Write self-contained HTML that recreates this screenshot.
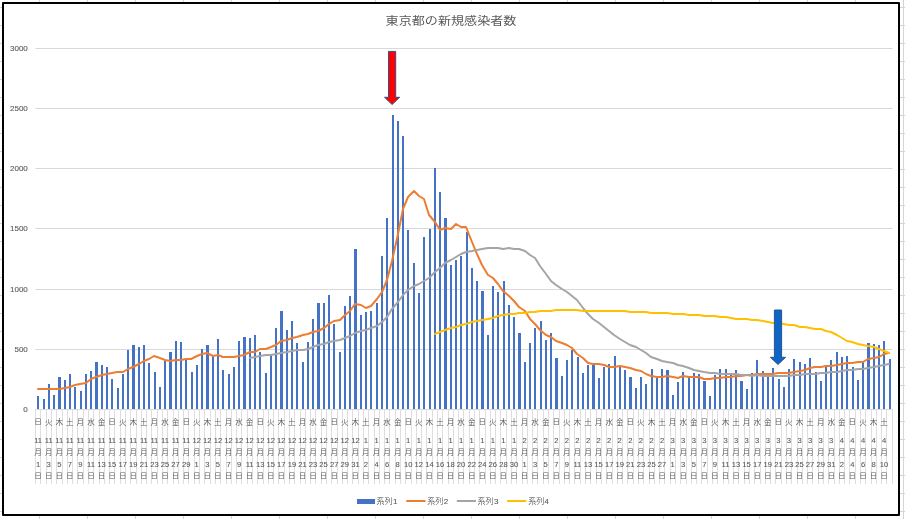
<!DOCTYPE html>
<html lang="ja"><head><meta charset="utf-8"><title>東京都の新規感染者数</title>
<style>html,body{margin:0;padding:0;background:#fff}body{width:905px;height:519px;overflow:hidden}svg{display:block}text{font-family:"Liberation Sans","Noto Sans CJK JP",sans-serif;fill:#595959}.y{font-size:8px;text-anchor:end;stroke:#595959;stroke-width:.1px}.c{font-size:7.6px;text-anchor:middle;font-weight:350}.d{font-size:7.6px;text-anchor:middle;stroke:#595959;stroke-width:.08px}.t{font-size:13.1px;text-anchor:middle;font-weight:400}.w{font-weight:350;fill:#595959}.l{font-size:8px}.lc{font-weight:350}.ld{stroke:#595959;stroke-width:.1px}</style></head><body>
<svg width="905" height="519" viewBox="0 0 905 519">
<rect width="905" height="519" fill="#fff"/>
<path d="M39.5 0V519M87.5 0V519M135.5 0V519M183.5 0V519M231.5 0V519M279.5 0V519M327.5 0V519M375.5 0V519M423.5 0V519M471.5 0V519M519.5 0V519M567.5 0V519M615.5 0V519M663.5 0V519M711.5 0V519M759.5 0V519M807.5 0V519M855.5 0V519M903.5 0V519M0 7.5H905M0 25.5H905M0 43.5H905M0 61.5H905M0 79.5H905M0 97.5H905M0 115.5H905M0 133.5H905M0 151.5H905M0 169.5H905M0 187.5H905M0 205.5H905M0 223.5H905M0 241.5H905M0 259.5H905M0 277.5H905M0 295.5H905M0 313.5H905M0 331.5H905M0 349.5H905M0 367.5H905M0 385.5H905M0 403.5H905M0 421.5H905M0 439.5H905M0 457.5H905M0 475.5H905M0 493.5H905M0 511.5H905" stroke="#d4d4d4" stroke-width="1" fill="none" shape-rendering="crispEdges"/>
<rect x="3" y="3" width="896" height="512" fill="#fff" stroke="#000" stroke-width="2" stroke-linejoin="round"/>
<text class="t" transform="translate(451,24.6) scale(1,0.88)">東京都の新規感染者数</text>
<path d="M35.4 409.5H892.5M35.4 349.5H892.5M35.4 289.5H892.5M35.4 228.5H892.5M35.4 168.5H892.5M35.4 108.5H892.5M35.4 48.5H892.5" stroke="#d9d9d9" stroke-width="1" fill="none"/>
<text class="y" x="27.8" y="412.4">0</text>
<text class="y" x="27.8" y="352.4">500</text>
<text class="y" x="27.8" y="292.4">1000</text>
<text class="y" x="27.8" y="231.4">1500</text>
<text class="y" x="27.8" y="171.4">2000</text>
<text class="y" x="27.8" y="111.4">2500</text>
<text class="y" x="27.8" y="51.4">3000</text>
<path d="M35.5 409.0V484M40.5 409.0V484M46.5 409.0V484M51.5 409.0V484M56.5 409.0V484M62.5 409.0V484M67.5 409.0V484M72.5 409.0V484M77.5 409.0V484M83.5 409.0V484M88.5 409.0V484M93.5 409.0V484M99.5 409.0V484M104.5 409.0V484M109.5 409.0V484M114.5 409.0V484M120.5 409.0V484M125.5 409.0V484M130.5 409.0V484M136.5 409.0V484M141.5 409.0V484M146.5 409.0V484M151.5 409.0V484M157.5 409.0V484M162.5 409.0V484M167.5 409.0V484M173.5 409.0V484M178.5 409.0V484M183.5 409.0V484M188.5 409.0V484M194.5 409.0V484M199.5 409.0V484M204.5 409.0V484M210.5 409.0V484M215.5 409.0V484M220.5 409.0V484M226.5 409.0V484M231.5 409.0V484M236.5 409.0V484M241.5 409.0V484M247.5 409.0V484M252.5 409.0V484M257.5 409.0V484M263.5 409.0V484M268.5 409.0V484M273.5 409.0V484M278.5 409.0V484M284.5 409.0V484M289.5 409.0V484M294.5 409.0V484M300.5 409.0V484M305.5 409.0V484M310.5 409.0V484M315.5 409.0V484M321.5 409.0V484M326.5 409.0V484M331.5 409.0V484M337.5 409.0V484M342.5 409.0V484M347.5 409.0V484M352.5 409.0V484M358.5 409.0V484M363.5 409.0V484M368.5 409.0V484M374.5 409.0V484M379.5 409.0V484M384.5 409.0V484M389.5 409.0V484M395.5 409.0V484M400.5 409.0V484M405.5 409.0V484M411.5 409.0V484M416.5 409.0V484M421.5 409.0V484M426.5 409.0V484M432.5 409.0V484M437.5 409.0V484M442.5 409.0V484M448.5 409.0V484M453.5 409.0V484M458.5 409.0V484M463.5 409.0V484M469.5 409.0V484M474.5 409.0V484M479.5 409.0V484M485.5 409.0V484M490.5 409.0V484M495.5 409.0V484M500.5 409.0V484M506.5 409.0V484M511.5 409.0V484M516.5 409.0V484M522.5 409.0V484M527.5 409.0V484M532.5 409.0V484M537.5 409.0V484M543.5 409.0V484M548.5 409.0V484M553.5 409.0V484M559.5 409.0V484M564.5 409.0V484M569.5 409.0V484M574.5 409.0V484M580.5 409.0V484M585.5 409.0V484M590.5 409.0V484M596.5 409.0V484M601.5 409.0V484M606.5 409.0V484M612.5 409.0V484M617.5 409.0V484M622.5 409.0V484M627.5 409.0V484M633.5 409.0V484M638.5 409.0V484M643.5 409.0V484M649.5 409.0V484M654.5 409.0V484M659.5 409.0V484M664.5 409.0V484M670.5 409.0V484M675.5 409.0V484M680.5 409.0V484M686.5 409.0V484M691.5 409.0V484M696.5 409.0V484M701.5 409.0V484M707.5 409.0V484M712.5 409.0V484M717.5 409.0V484M723.5 409.0V484M728.5 409.0V484M733.5 409.0V484M738.5 409.0V484M744.5 409.0V484M749.5 409.0V484M754.5 409.0V484M760.5 409.0V484M765.5 409.0V484M770.5 409.0V484M775.5 409.0V484M781.5 409.0V484M786.5 409.0V484M791.5 409.0V484M797.5 409.0V484M802.5 409.0V484M807.5 409.0V484M812.5 409.0V484M818.5 409.0V484M823.5 409.0V484M828.5 409.0V484M834.5 409.0V484M839.5 409.0V484M844.5 409.0V484M849.5 409.0V484M855.5 409.0V484M860.5 409.0V484M865.5 409.0V484M871.5 409.0V484M876.5 409.0V484M881.5 409.0V484M886.5 409.0V484M892.5 409.0V484" stroke="#dedede" stroke-width="1" fill="none" shape-rendering="crispEdges"/>
<path d="M37 409H39V396H37ZM43 409H45V399H43ZM48 409H50V384H48ZM53 409H55V395H53ZM58 409H61V377H58ZM64 409H66V380H64ZM69 409H71V374H69ZM74 409H76V387H74ZM80 409H82V391H80ZM85 409H87V374H85ZM90 409H92V371H90ZM95 409H98V362H95ZM101 409H103V365H101ZM106 409H108V367H106ZM111 409H113V379H111ZM117 409H119V388H117ZM122 409H124V374H122ZM127 409H129V350H127ZM132 409H135V345H132ZM138 409H140V347H138ZM143 409H145V345H143ZM148 409H150V363H148ZM154 409H156V372H154ZM159 409H161V387H159ZM164 409H166V361H164ZM169 409H172V352H169ZM175 409H177V341H175ZM180 409H182V342H180ZM185 409H187V359H185ZM191 409H193V372H191ZM196 409H198V365H196ZM201 409H203V349H201ZM206 409H209V345H206ZM212 409H214V356H212ZM217 409H219V339H217ZM222 409H224V370H222ZM228 409H230V374H228ZM233 409H235V367H233ZM238 409H240V341H238ZM243 409H246V337H243ZM249 409H251V338H249ZM254 409H256V335H254ZM259 409H261V352H259ZM265 409H267V373H265ZM270 409H272V354H270ZM275 409H277V328H275ZM280 409H283V311H280ZM286 409H288V330H286ZM291 409H293V321H291ZM296 409H298V343H296ZM302 409H304V362H302ZM307 409H309V342H307ZM312 409H314V319H312ZM317 409H320V303H317ZM323 409H325V303H323ZM328 409H330V295H328ZM333 409H335V324H333ZM339 409H341V352H339ZM344 409H346V306H344ZM349 409H351V296H349ZM354 409H357V249H354ZM360 409H362V315H360ZM365 409H367V312H365ZM370 409H372V311H370ZM376 409H378V303H376ZM381 409H383V256H381ZM386 409H388V218H386ZM392 409H394V115H392ZM397 409H399V121H397ZM402 409H404V136H402ZM407 409H409V230H407ZM413 409H415V263H413ZM418 409H420V293H418ZM423 409H425V237H423ZM429 409H431V229H429ZM434 409H436V168H434ZM439 409H441V192H439ZM444 409H447V218H444ZM450 409H452V265H450ZM455 409H457V260H455ZM460 409H462V256H460ZM466 409H468V232H466ZM471 409H473V268H471ZM476 409H478V281H476ZM481 409H484V291H481ZM487 409H489V335H487ZM492 409H494V286H492ZM497 409H499V292H497ZM503 409H505V281H503ZM508 409H510V305H508ZM513 409H515V317H513ZM518 409H521V333H518ZM524 409H526V362H524ZM529 409H531V343H529ZM534 409H536V328H534ZM540 409H542V321H540ZM545 409H547V340H545ZM550 409H552V333H550ZM555 409H558V358H555ZM561 409H563V376H561ZM566 409H568V360H566ZM571 409H573V350H571ZM577 409H579V357H577ZM582 409H584V373H582ZM587 409H589V365H587ZM592 409H595V365H592ZM598 409H600V378H598ZM603 409H605V367H603ZM608 409H610V364H608ZM614 409H616V356H614ZM619 409H621V367H619ZM624 409H626V370H624ZM629 409H632V377H629ZM635 409H637V388H635ZM640 409H642V377H640ZM645 409H647V384H645ZM651 409H653V369H651ZM656 409H658V377H656ZM661 409H663V369H661ZM666 409H669V370H666ZM672 409H674V395H672ZM677 409H679V382H677ZM682 409H684V372H682ZM688 409H690V376H688ZM693 409H695V373H693ZM698 409H700V374H698ZM703 409H706V381H703ZM709 409H711V396H709ZM714 409H716V375H714ZM719 409H721V369H719ZM725 409H727V369H725ZM730 409H732V373H730ZM735 409H737V370H735ZM740 409H743V381H740ZM746 409H748V389H746ZM751 409H753V373H751ZM756 409H758V360H756ZM762 409H764V371H762ZM767 409H769V373H767ZM772 409H774V368H772ZM778 409H780V379H778ZM783 409H785V387H783ZM788 409H790V369H788ZM793 409H795V359H793ZM799 409H801V362H799ZM804 409H806V364H804ZM809 409H811V358H809ZM815 409H817V372H815ZM820 409H822V381H820ZM825 409H827V366H825ZM830 409H832V360H830ZM836 409H838V352H836ZM841 409H843V357H841ZM846 409H848V356H846ZM852 409H854V367H852ZM857 409H859V380H857ZM862 409H864V362H862ZM867 409H870V343H867ZM873 409H875V344H873ZM878 409H880V345H878ZM883 409H885V341H883ZM889 409H891V359H889Z" fill="#4472c4" shape-rendering="crispEdges"/>
<polyline points="38,389 43,389 49,389 54,389 59,389 65,388 70,387 75,385 80,384 86,383 91,379 96,377 102,375 107,374 112,373 117,372 123,372 128,369 133,367 139,364 144,361 149,359 154,356 160,358 165,360 170,361 176,360 181,360 186,359 191,359 197,356 202,354 207,353 213,356 218,355 223,357 228,357 234,357 239,356 244,355 250,352 255,352 260,349 266,349 271,347 276,345 281,341 287,340 292,338 297,337 303,335 308,334 313,332 318,331 324,328 329,324 334,321 340,320 345,315 350,311 355,304 361,305 366,308 371,306 377,299 382,292 387,280 392,261 398,234 403,209 408,197 414,191 419,196 424,199 429,215 435,222 440,230 445,228 451,229 456,224 461,227 466,227 472,242 477,254 482,265 488,275 493,278 498,284 503,291 509,296 514,301 519,307 525,311 530,319 535,324 540,330 546,335 551,337 556,341 562,343 567,345 572,348 577,354 583,358 588,363 593,364 599,364 604,365 609,367 614,367 620,366 625,367 630,368 636,370 641,371 646,374 651,376 657,377 662,377 667,376 673,377 678,378 683,376 689,377 694,377 699,377 704,379 710,379 715,378 720,378 726,377 731,377 736,376 741,376 747,375 752,375 757,374 763,374 768,374 773,374 778,373 784,373 789,373 794,372 800,371 805,370 810,368 815,367 821,367 826,366 831,366 837,365 842,364 847,363 852,363 858,362 863,362 868,359 874,358 879,357 884,354 889,353" fill="none" stroke="#ed7d31" stroke-width="2" stroke-linejoin="round" stroke-linecap="round"/>
<polyline points="250,358 255,357 260,356 266,355 271,355 276,354 281,353 287,352 292,351 297,350 303,350 308,349 313,347 318,345 324,344 329,342 334,341 340,340 345,338 350,336 355,333 361,331 366,330 371,328 377,326 382,322 387,317 392,309 398,302 403,295 408,290 414,286 419,284 424,281 429,278 435,272 440,268 445,263 451,260 456,257 461,254 466,252 472,251 477,250 482,249 488,248 493,248 498,248 503,249 509,248 514,249 519,249 525,251 530,255 535,258 540,266 546,274 551,281 556,285 562,289 567,292 572,296 577,300 583,308 588,314 593,319 599,323 604,327 609,331 614,335 620,339 625,342 630,345 636,347 641,350 646,353 651,357 657,359 662,361 667,362 673,363 678,365 683,366 689,368 694,370 699,371 704,372 710,373 715,373 720,374 726,374 731,374 736,374 741,375 747,375 752,376 757,375 763,376 768,376 773,376 778,376 784,376 789,376 794,375 800,375 805,374 810,374 815,374 821,373 826,373 831,372 837,372 842,371 847,370 852,370 858,369 863,369 868,368 874,367 879,366 884,365 889,364" fill="none" stroke="#a5a5a5" stroke-width="2" stroke-linejoin="round" stroke-linecap="round"/>
<polyline points="435,334 440,332 445,330 451,328 456,327 461,325 466,324 472,322 477,321 482,320 488,319 493,318 498,316 503,315 509,314 514,314 519,313 525,313 530,312 535,312 540,311 546,311 551,311 556,310 562,310 567,310 572,310 577,310 583,311 588,311 593,311 599,311 604,311 609,311 614,311 620,311 625,311 630,312 636,312 641,312 646,312 651,313 657,313 662,313 667,313 673,314 678,314 683,314 689,315 694,315 699,315 704,316 710,316 715,316 720,317 726,317 731,318 736,319 741,319 747,319 752,320 757,320 763,321 768,322 773,323 778,323 784,324 789,325 794,325 800,327 805,327 810,328 815,329 821,329 826,331 831,332 837,335 842,338 847,341 852,342 858,344 863,345 868,346 874,347 879,349 884,351 889,353" fill="none" stroke="#ffc000" stroke-width="2" stroke-linejoin="round" stroke-linecap="round"/>
<g class="c w" transform="translate(0,424.00) scale(1,0.88)"><text x="38.1">日</text><text x="112.1">日</text><text x="186.2">日</text><text x="260.2">日</text><text x="334.2">日</text><text x="408.2">日</text><text x="482.3">日</text><text x="556.3">日</text><text x="630.3">日</text><text x="704.3">日</text><text x="778.4">日</text><text x="852.4">日</text></g>
<g class="c w" transform="translate(0,424.50)"><text x="48.7">火</text><text x="59.3">木</text><text x="69.8">土</text><text x="80.4">月</text><text x="91.0">水</text><text x="101.6">金</text><text x="122.7">火</text><text x="133.3">木</text><text x="143.9">土</text><text x="154.4">月</text><text x="165.0">水</text><text x="175.6">金</text><text x="196.7">火</text><text x="207.3">木</text><text x="217.9">土</text><text x="228.5">月</text><text x="239.0">水</text><text x="249.6">金</text><text x="270.8">火</text><text x="281.3">木</text><text x="291.9">土</text><text x="302.5">月</text><text x="313.1">水</text><text x="323.6">金</text><text x="344.8">火</text><text x="355.4">木</text><text x="365.9">土</text><text x="376.5">月</text><text x="387.1">水</text><text x="397.7">金</text><text x="418.8">火</text><text x="429.4">木</text><text x="440.0">土</text><text x="450.5">月</text><text x="461.1">水</text><text x="471.7">金</text><text x="492.8">火</text><text x="503.4">木</text><text x="514.0">土</text><text x="524.6">月</text><text x="535.1">水</text><text x="545.7">金</text><text x="566.9">火</text><text x="577.4">木</text><text x="588.0">土</text><text x="598.6">月</text><text x="609.2">水</text><text x="619.7">金</text><text x="640.9">火</text><text x="651.5">木</text><text x="662.0">土</text><text x="672.6">月</text><text x="683.2">水</text><text x="693.8">金</text><text x="714.9">火</text><text x="725.5">木</text><text x="736.1">土</text><text x="746.6">月</text><text x="757.2">水</text><text x="767.8">金</text><text x="788.9">火</text><text x="799.5">木</text><text x="810.1">土</text><text x="820.7">月</text><text x="831.2">水</text><text x="841.8">金</text><text x="863.0">火</text><text x="873.5">木</text><text x="884.1">土</text></g>
<g class="d" transform="translate(0,443.30)"><text x="38.1">11</text><text x="48.7">11</text><text x="59.3">11</text><text x="69.8">11</text><text x="80.4">11</text><text x="91.0">11</text><text x="101.6">11</text><text x="112.1">11</text><text x="122.7">11</text><text x="133.3">11</text><text x="143.9">11</text><text x="154.4">11</text><text x="165.0">11</text><text x="175.6">11</text><text x="186.2">11</text><text x="196.7">12</text><text x="207.3">12</text><text x="217.9">12</text><text x="228.5">12</text><text x="239.0">12</text><text x="249.6">12</text><text x="260.2">12</text><text x="270.8">12</text><text x="281.3">12</text><text x="291.9">12</text><text x="302.5">12</text><text x="313.1">12</text><text x="323.6">12</text><text x="334.2">12</text><text x="344.8">12</text><text x="355.4">12</text><text x="365.9">1</text><text x="376.5">1</text><text x="387.1">1</text><text x="397.7">1</text><text x="408.2">1</text><text x="418.8">1</text><text x="429.4">1</text><text x="440.0">1</text><text x="450.5">1</text><text x="461.1">1</text><text x="471.7">1</text><text x="482.3">1</text><text x="492.8">1</text><text x="503.4">1</text><text x="514.0">1</text><text x="524.6">2</text><text x="535.1">2</text><text x="545.7">2</text><text x="556.3">2</text><text x="566.9">2</text><text x="577.4">2</text><text x="588.0">2</text><text x="598.6">2</text><text x="609.2">2</text><text x="619.7">2</text><text x="630.3">2</text><text x="640.9">2</text><text x="651.5">2</text><text x="662.0">2</text><text x="672.6">3</text><text x="683.2">3</text><text x="693.8">3</text><text x="704.3">3</text><text x="714.9">3</text><text x="725.5">3</text><text x="736.1">3</text><text x="746.6">3</text><text x="757.2">3</text><text x="767.8">3</text><text x="778.4">3</text><text x="788.9">3</text><text x="799.5">3</text><text x="810.1">3</text><text x="820.7">3</text><text x="831.2">3</text><text x="841.8">4</text><text x="852.4">4</text><text x="863.0">4</text><text x="873.5">4</text><text x="884.1">4</text></g>
<g class="c" transform="translate(0,455.00) scale(1,1)"><text x="38.1">月</text><text x="48.7">月</text><text x="59.3">月</text><text x="69.8">月</text><text x="80.4">月</text><text x="91.0">月</text><text x="101.6">月</text><text x="112.1">月</text><text x="122.7">月</text><text x="133.3">月</text><text x="143.9">月</text><text x="154.4">月</text><text x="165.0">月</text><text x="175.6">月</text><text x="186.2">月</text><text x="196.7">月</text><text x="207.3">月</text><text x="217.9">月</text><text x="228.5">月</text><text x="239.0">月</text><text x="249.6">月</text><text x="260.2">月</text><text x="270.8">月</text><text x="281.3">月</text><text x="291.9">月</text><text x="302.5">月</text><text x="313.1">月</text><text x="323.6">月</text><text x="334.2">月</text><text x="344.8">月</text><text x="355.4">月</text><text x="365.9">月</text><text x="376.5">月</text><text x="387.1">月</text><text x="397.7">月</text><text x="408.2">月</text><text x="418.8">月</text><text x="429.4">月</text><text x="440.0">月</text><text x="450.5">月</text><text x="461.1">月</text><text x="471.7">月</text><text x="482.3">月</text><text x="492.8">月</text><text x="503.4">月</text><text x="514.0">月</text><text x="524.6">月</text><text x="535.1">月</text><text x="545.7">月</text><text x="556.3">月</text><text x="566.9">月</text><text x="577.4">月</text><text x="588.0">月</text><text x="598.6">月</text><text x="609.2">月</text><text x="619.7">月</text><text x="630.3">月</text><text x="640.9">月</text><text x="651.5">月</text><text x="662.0">月</text><text x="672.6">月</text><text x="683.2">月</text><text x="693.8">月</text><text x="704.3">月</text><text x="714.9">月</text><text x="725.5">月</text><text x="736.1">月</text><text x="746.6">月</text><text x="757.2">月</text><text x="767.8">月</text><text x="778.4">月</text><text x="788.9">月</text><text x="799.5">月</text><text x="810.1">月</text><text x="820.7">月</text><text x="831.2">月</text><text x="841.8">月</text><text x="852.4">月</text><text x="863.0">月</text><text x="873.5">月</text><text x="884.1">月</text></g>
<g class="d" transform="translate(0,467.10)"><text x="38.1">1</text><text x="48.7">3</text><text x="59.3">5</text><text x="69.8">7</text><text x="80.4">9</text><text x="91.0">11</text><text x="101.6">13</text><text x="112.1">15</text><text x="122.7">17</text><text x="133.3">19</text><text x="143.9">21</text><text x="154.4">23</text><text x="165.0">25</text><text x="175.6">27</text><text x="186.2">29</text><text x="196.7">1</text><text x="207.3">3</text><text x="217.9">5</text><text x="228.5">7</text><text x="239.0">9</text><text x="249.6">11</text><text x="260.2">13</text><text x="270.8">15</text><text x="281.3">17</text><text x="291.9">19</text><text x="302.5">21</text><text x="313.1">23</text><text x="323.6">25</text><text x="334.2">27</text><text x="344.8">29</text><text x="355.4">31</text><text x="365.9">2</text><text x="376.5">4</text><text x="387.1">6</text><text x="397.7">8</text><text x="408.2">10</text><text x="418.8">12</text><text x="429.4">14</text><text x="440.0">16</text><text x="450.5">18</text><text x="461.1">20</text><text x="471.7">22</text><text x="482.3">24</text><text x="492.8">26</text><text x="503.4">28</text><text x="514.0">30</text><text x="524.6">1</text><text x="535.1">3</text><text x="545.7">5</text><text x="556.3">7</text><text x="566.9">9</text><text x="577.4">11</text><text x="588.0">13</text><text x="598.6">15</text><text x="609.2">17</text><text x="619.7">19</text><text x="630.3">21</text><text x="640.9">23</text><text x="651.5">25</text><text x="662.0">27</text><text x="672.6">1</text><text x="683.2">3</text><text x="693.8">5</text><text x="704.3">7</text><text x="714.9">9</text><text x="725.5">11</text><text x="736.1">13</text><text x="746.6">15</text><text x="757.2">17</text><text x="767.8">19</text><text x="778.4">21</text><text x="788.9">23</text><text x="799.5">25</text><text x="810.1">27</text><text x="820.7">29</text><text x="831.2">31</text><text x="841.8">2</text><text x="852.4">4</text><text x="863.0">6</text><text x="873.5">8</text><text x="884.1">10</text></g>
<g class="c" transform="translate(0,477.80) scale(1,0.88)"><text x="38.1">日</text><text x="48.7">日</text><text x="59.3">日</text><text x="69.8">日</text><text x="80.4">日</text><text x="91.0">日</text><text x="101.6">日</text><text x="112.1">日</text><text x="122.7">日</text><text x="133.3">日</text><text x="143.9">日</text><text x="154.4">日</text><text x="165.0">日</text><text x="175.6">日</text><text x="186.2">日</text><text x="196.7">日</text><text x="207.3">日</text><text x="217.9">日</text><text x="228.5">日</text><text x="239.0">日</text><text x="249.6">日</text><text x="260.2">日</text><text x="270.8">日</text><text x="281.3">日</text><text x="291.9">日</text><text x="302.5">日</text><text x="313.1">日</text><text x="323.6">日</text><text x="334.2">日</text><text x="344.8">日</text><text x="355.4">日</text><text x="365.9">日</text><text x="376.5">日</text><text x="387.1">日</text><text x="397.7">日</text><text x="408.2">日</text><text x="418.8">日</text><text x="429.4">日</text><text x="440.0">日</text><text x="450.5">日</text><text x="461.1">日</text><text x="471.7">日</text><text x="482.3">日</text><text x="492.8">日</text><text x="503.4">日</text><text x="514.0">日</text><text x="524.6">日</text><text x="535.1">日</text><text x="545.7">日</text><text x="556.3">日</text><text x="566.9">日</text><text x="577.4">日</text><text x="588.0">日</text><text x="598.6">日</text><text x="609.2">日</text><text x="619.7">日</text><text x="630.3">日</text><text x="640.9">日</text><text x="651.5">日</text><text x="662.0">日</text><text x="672.6">日</text><text x="683.2">日</text><text x="693.8">日</text><text x="704.3">日</text><text x="714.9">日</text><text x="725.5">日</text><text x="736.1">日</text><text x="746.6">日</text><text x="757.2">日</text><text x="767.8">日</text><text x="778.4">日</text><text x="788.9">日</text><text x="799.5">日</text><text x="810.1">日</text><text x="820.7">日</text><text x="831.2">日</text><text x="841.8">日</text><text x="852.4">日</text><text x="863.0">日</text><text x="873.5">日</text><text x="884.1">日</text></g>
<path d="M388.5 51.4H395.7V97.3H399.7L392.1 104.5L384.5 97.3H388.5Z" fill="#ff0000" stroke="#2f528f" stroke-width="1" stroke-linejoin="miter"/>
<path d="M774.4 310H781.6V357.3H785.6L778 364.5L770.4 357.3H774.4Z" fill="#0b66c6" stroke="#2f528f" stroke-width="1" stroke-linejoin="miter"/>
<rect x="357" y="499" width="18" height="5" fill="#4472c4" shape-rendering="crispEdges"/>
<text class="l" x="376.6" y="504.3"><tspan class="lc">系列</tspan><tspan class="ld" dx="0.4">1</tspan></text>
<path d="M406.3 501H425.5" stroke="#ed7d31" stroke-width="2" fill="none"/>
<text class="l" x="427.3" y="504.3"><tspan class="lc">系列</tspan><tspan class="ld" dx="0.4">2</tspan></text>
<path d="M456.8 501H476" stroke="#a5a5a5" stroke-width="2" fill="none"/>
<text class="l" x="477.6" y="504.3"><tspan class="lc">系列</tspan><tspan class="ld" dx="0.4">3</tspan></text>
<path d="M507.1 501H526.3" stroke="#ffc000" stroke-width="2" fill="none"/>
<text class="l" x="528.2" y="504.3"><tspan class="lc">系列</tspan><tspan class="ld" dx="0.4">4</tspan></text>
</svg></body></html>
